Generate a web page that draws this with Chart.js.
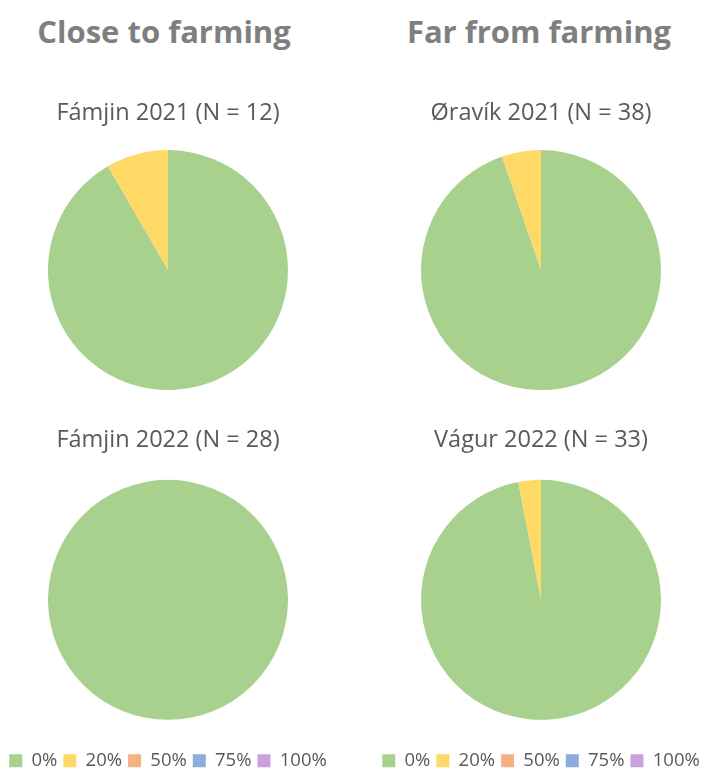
<!DOCTYPE html>
<html>
<head>
<meta charset="utf-8">
<script src="https://cdn.jsdelivr.net/npm/chart.js@4.4.0/dist/chart.umd.min.js"></script>
<style>
  body { margin: 0; background: #fff; width: 708px; height: 770px; position: relative; overflow: hidden; font-family: "Open Sans", sans-serif; }
  .head { position: absolute; top: 10px; width: 340px; text-align: center; font-weight: bold; font-size: 31px; color: #7f7f7f; }
  .box { position: absolute; width: 340px; }
  .box canvas { display: block; }
</style>
</head>
<body>
<div class="head" style="left:-6px">Close to farming</div>
<div class="head" style="left:369px">Far from farming</div>
<div class="box" style="left:-2px;top:88px;height:318px"><canvas id="c1"></canvas></div>
<div class="box" style="left:371px;top:88px;height:318px"><canvas id="c2"></canvas></div>
<div class="box" style="left:-2px;top:415px;height:365px"><canvas id="c3"></canvas></div>
<div class="box" style="left:371px;top:415px;height:365px"><canvas id="c4"></canvas></div>
<script>
// categorias de resposta
const categories = ['0%', '20%', '50%', '75%', '100%'];
const colors = ['#a9d18e', '#ffd966', '#f4b183', '#8faadc', '#c9a0dc'];

// contagens por local / ano
const famjin2021 = [11, 1, 0, 0, 0];
const oravik2021 = [36, 2, 0, 0, 0];
const famjin2022 = [28, 0, 0, 0, 0];
const vagur2022 = [32, 1, 0, 0, 0];

const titles = ['Fámjin 2021 (N = 12)', 'Øravík 2021 (N = 38)', 'Fámjin 2022 (N = 28)', 'Vágur 2022 (N = 33)'];

function makePie(id, titulo, valores, comLegenda) {
    const ctx = document.getElementById(id).getContext('2d');
    return new Chart(ctx, {
        type: 'pie',
        data: {
            labels: categories,
            datasets: [{
                data: valores,
                backgroundColor: colors,
                borderWidth: 0,
                radius: 120
            }]
        },
        options: {
            responsive: true,
            maintainAspectRatio: false,
            animation: false,
            plugins: {
                title: {
                    display: true,
                    text: titulo,
                    color: '#595959',
                    font: { family: 'Open Sans', size: 23.5, weight: 'normal' },
                    padding: { top: 11, bottom: comLegenda ? 0 : 7 }
                },
                legend: {
                    display: comLegenda,
                    position: 'bottom',
                    labels: {
                        color: '#595959',
                        boxWidth: 13,
                        boxHeight: 13,
                        padding: 6,
                        font: { family: 'Open Sans', size: 18.5 }
                    }
                },
                tooltip: { enabled: false }
            }
        }
    });
}

makePie('c1', titles[0], famjin2021, false);
makePie('c2', titles[1], oravik2021, false);
makePie('c3', titles[2], famjin2022, true);
makePie('c4', titles[3], vagur2022, true);
</script>
</body>
</html>
